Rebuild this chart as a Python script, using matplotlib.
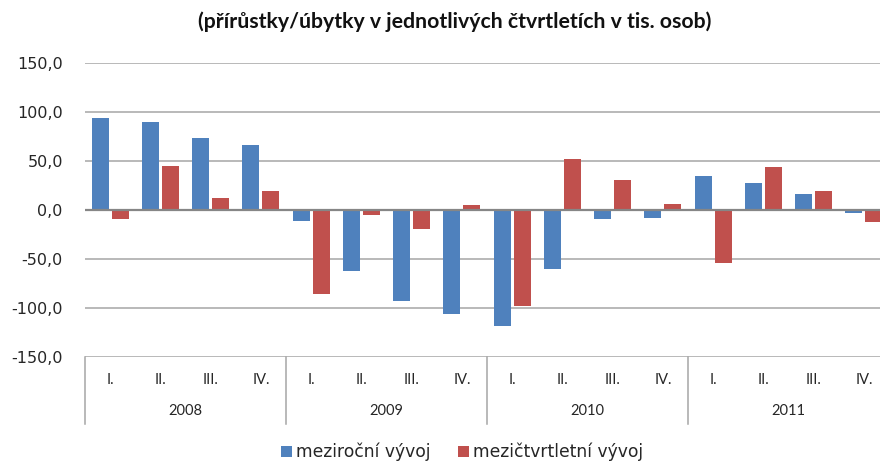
import matplotlib.pyplot as plt
import numpy as np

plt.rcParams['font.family'] = ['Lato', 'DejaVu Sans']

years = ['2008', '2009', '2010', '2011']
quarters = ['I.', 'II.', 'III.', 'IV.']

# meziroční vývoj (year-on-year)
yoy = [94, 90, 73, 66,
       -11, -62, -93, -106,
       -118, -60, -9.5, -8.5,
       35, 28, 16, -2.7]
# mezičtvrtletní vývoj (quarter-on-quarter)
qoq = [-9, 45, 12, 19,
       -86, -5.5, -19, 5,
       -98, 52, 31, 6.5,
       -54, 44, 19, -12]

blue = '#4F81BD'
red = '#C0504D'
txt = '#262626'

W, H = 880, 463
fig = plt.figure(figsize=(W / 100, H / 100), dpi=100)
left, right, top, bottom = 85, 889, 62.7, 357.3
ax = fig.add_axes([left / W, 1 - bottom / H, (right - left) / W, (bottom - top) / H])

x = np.arange(len(yoy))
bw = 0.34
ax.bar(x - 0.2, yoy, bw, color=blue, label='meziroční vývoj', zorder=3)
ax.bar(x + 0.2, qoq, bw, color=red, label='mezičtvrtletní vývoj', zorder=3)

ax.set_xlim(-0.5, len(yoy) - 0.5)
ax.set_ylim(-150, 150)
ticks = np.arange(-150, 151, 50)
ax.set_yticks(ticks)
ax.set_yticklabels([f'{t:.1f}'.replace('.', ',') for t in ticks],
                   fontsize=11.5, color=txt, family='DejaVu Sans')
ax.tick_params(axis='y', length=0, pad=16)
ax.set_xticks([])
for s in ax.spines.values():
    s.set_visible(False)
for t in ticks:
    ax.axhline(t, color='#A6A6A6', lw=1.1, zorder=1)
ax.axhline(0, color='#868686', lw=1.6, zorder=4)

# two-level category axis
tr = ax.get_xaxis_transform()
ax_h = bottom - top
for i in range(len(yoy)):
    ax.text(i, -(380 - bottom) / ax_h, quarters[i % 4], transform=tr,
            ha='center', va='center', fontsize=10.5, color=txt)
for g, yr in enumerate(years):
    ax.text(g * 4 + 1.5, -(411 - bottom) / ax_h, yr, transform=tr,
            ha='center', va='center', fontsize=10.5, color=txt)
for g in range(len(years) + 1):
    ax.plot([g * 4 - 0.5] * 2, [0, -(424 - bottom) / ax_h], transform=tr,
            color='#A6A6A6', lw=1.1, clip_on=False)

fig.text(455 / W, 1 - 22 / H, '(přírůstky/úbytky v jednotlivých čtvrtletích v tis. osob)',
         ha='center', va='center', fontsize=15.3, fontweight='bold', color='#111111')

fig.legend(loc='center', bbox_to_anchor=(462 / W, 1 - 452 / H), ncol=2, frameon=False,
           prop={'family': 'DejaVu Sans', 'size': 12.3}, labelcolor=txt,
           handlelength=0.65, handleheight=0.65, handletextpad=0.25,
           columnspacing=1.6)

fig.savefig('out.png', dpi=100)
